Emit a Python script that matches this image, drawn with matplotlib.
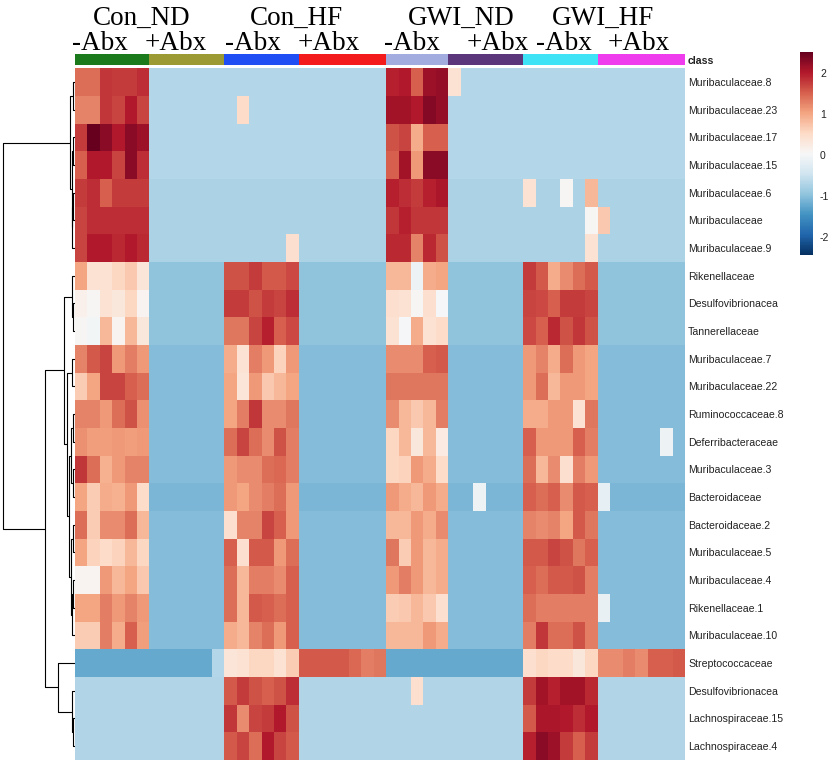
import numpy as np
import matplotlib
matplotlib.use("Agg")
import matplotlib.pyplot as plt
from matplotlib.colors import ListedColormap
from matplotlib.transforms import blended_transform_factory

plt.rcParams["font.family"] = ["Liberation Sans", "DejaVu Sans"]

taxa = ["Muribaculaceae.8", "Muribaculaceae.23", "Muribaculaceae.17", "Muribaculaceae.15",
        "Muribaculaceae.6", "Muribaculaceae", "Muribaculaceae.9", "Rikenellaceae",
        "Desulfovibrionacea", "Tannerellaceae", "Muribaculaceae.7", "Muribaculaceae.22",
        "Ruminococcaceae.8", "Deferribacteraceae", "Muribaculaceae.3", "Bacteroidaceae",
        "Bacteroidaceae.2", "Muribaculaceae.5", "Muribaculaceae.4", "Rikenellaceae.1",
        "Muribaculaceae.10", "Streptococcaceae", "Desulfovibrionacea", "Lachnospiraceae.15",
        "Lachnospiraceae.4"]

group_names = ["Con_ND", "Con_HF", "GWI_ND", "GWI_HF"]
abx_labels = ["-Abx", "+Abx"] * 4
# samples per class: Con_ND-/+, Con_HF-/+, GWI_ND-/+, GWI_HF-/+
class_sizes = [6, 6, 6, 7, 5, 6, 6, 7]
class_colors = ["#1b7a1b", "#9b9a33", "#1f4ef5", "#f31b1b",
                "#a3acdf", "#5b367a", "#3ee3f5", "#ef3cec"]
# label centres, in heatmap columns
group_label_x = [5.4, 17.8, 31.0, 42.4]
abx_label_x = [2.0, 8.1, 14.3, 20.4, 27.05, 34.0, 39.3, 45.3]

# row-scaled abundances (rows = taxa, columns = samples)
z_scores = [
    [1.40, 1.40, 1.80, 1.75, 1.75, 1.85, -.70, -.70, -.70, -.70, -.70, -.70,
     -.70, -.70, -.70, -.70, -.70, -.70, -.70, -.70, -.70, -.70, -.70, -.70, -.70,
     1.95, 2.00, 1.50, 2.15, 2.20, 0.40, -.70, -.70, -.70, -.70, -.70,
     -.70, -.70, -.70, -.70, -.70, -.70, -.70, -.70, -.70, -.70, -.70, -.70, -.70],
    [1.25, 1.25, 1.80, 1.70, 2.00, 1.70, -.70, -.70, -.70, -.70, -.70, -.70,
     -.70, 0.50, -.70, -.70, -.70, -.70, -.70, -.70, -.70, -.70, -.70, -.70, -.70,
     2.10, 2.10, 2.00, 2.30, 2.20, -.70, -.70, -.70, -.70, -.70, -.70,
     -.70, -.70, -.70, -.70, -.70, -.70, -.70, -.70, -.70, -.70, -.70, -.70, -.70],
    [1.75, 2.50, 2.25, 2.00, 2.25, 2.15, -.70, -.70, -.70, -.70, -.70, -.70,
     -.70, -.70, -.70, -.70, -.70, -.70, -.70, -.70, -.70, -.70, -.70, -.70, -.70,
     1.60, 1.70, 0.95, 1.50, 1.50, -.70, -.70, -.70, -.70, -.70, -.70,
     -.70, -.70, -.70, -.70, -.70, -.70, -.70, -.70, -.70, -.70, -.70, -.70, -.70],
    [1.50, 2.00, 2.00, 1.70, 2.25, 1.85, -.70, -.70, -.70, -.70, -.70, -.70,
     -.70, -.70, -.70, -.70, -.70, -.70, -.70, -.70, -.70, -.70, -.70, -.70, -.70,
     1.50, 2.10, 1.10, 2.25, 2.25, -.70, -.70, -.70, -.70, -.70, -.70,
     -.70, -.70, -.70, -.70, -.70, -.70, -.70, -.70, -.70, -.70, -.70, -.70, -.70],
    [1.75, 1.85, 1.50, 1.75, 1.75, 1.75, -.75, -.75, -.75, -.75, -.75, -.75,
     -.75, -.75, -.75, -.75, -.75, -.75, -.75, -.75, -.75, -.75, -.75, -.75, -.75,
     1.95, 1.85, 1.75, 1.95, 2.05, -.75, -.75, -.75, -.75, -.75, -.75,
     0.40, -.75, -.75, 0.05, -.75, 0.85, -.75, -.75, -.75, -.75, -.75, -.75, -.75],
    [1.70, 1.85, 1.85, 1.85, 1.85, 1.85, -.75, -.75, -.75, -.75, -.75, -.75,
     -.75, -.75, -.75, -.75, -.75, -.75, -.75, -.75, -.75, -.75, -.75, -.75, -.75,
     1.80, 1.95, 1.80, 1.80, 1.80, -.75, -.75, -.75, -.75, -.75, -.75,
     -.75, -.75, -.75, -.75, -.75, 0.05, 0.70, -.75, -.75, -.75, -.75, -.75, -.75],
    [1.70, 2.00, 2.00, 1.90, 2.00, 1.90, -.75, -.75, -.75, -.75, -.75, -.75,
     -.75, -.75, -.75, -.75, -.75, 0.45, -.75, -.75, -.75, -.75, -.75, -.75, -.75,
     1.90, 1.90, 1.25, 1.90, 1.60, -.75, -.75, -.75, -.75, -.75, -.75,
     -.75, -.75, -.75, -.75, -.75, 0.40, -.75, -.75, -.75, -.75, -.75, -.75, -.75],
    [1.00, 0.40, 0.40, 0.55, 0.70, 0.35, -.97, -.97, -.97, -.97, -.97, -.97,
     1.60, 1.60, 1.75, 1.55, 1.55, 1.65, -.97, -.97, -.97, -.97, -.97, -.97, -.97,
     0.85, 0.85, -.10, 0.95, 1.00, -.97, -.97, -.97, -.97, -.97, -.97,
     1.75, 1.55, 0.95, 1.20, 1.40, 1.55, -.97, -.97, -.97, -.97, -.97, -.97, -.97],
    [0.15, 0.05, 0.40, 0.30, 0.55, 0.10, -.97, -.97, -.97, -.97, -.97, -.97,
     1.75, 1.75, 1.60, 1.75, 1.70, 1.85, -.97, -.97, -.97, -.97, -.97, -.97, -.97,
     0.45, 0.40, 0.05, 0.45, 0.00, -.97, -.97, -.97, -.97, -.97, -.97,
     1.70, 1.65, 1.50, 1.75, 1.75, 1.70, -.97, -.97, -.97, -.97, -.97, -.97, -.97],
    [0.05, -.05, 0.85, 0.10, 0.85, 0.30, -.97, -.97, -.97, -.97, -.97, -.97,
     1.35, 1.35, 1.70, 1.95, 1.50, 1.65, -.97, -.97, -.97, -.97, -.97, -.97, -.97,
     0.40, 0.00, 0.95, 0.40, 0.50, -.97, -.97, -.97, -.97, -.97, -.97,
     1.65, 1.50, 1.90, 1.60, 1.80, 1.60, -.97, -.97, -.97, -.97, -.97, -.97, -.97],
    [1.25, 1.55, 1.70, 1.10, 1.30, 1.10, -1.05, -1.05, -1.05, -1.05, -1.05, -1.05,
     0.95, 0.40, 1.30, 1.10, 0.60, 1.10, -1.05, -1.05, -1.05, -1.05, -1.05, -1.05, -1.05,
     1.20, 1.20, 1.20, 1.50, 1.55, -1.05, -1.05, -1.05, -1.05, -1.05, -1.05,
     1.10, 1.25, 0.95, 1.40, 1.10, 1.00, -1.05, -1.05, -1.05, -1.05, -1.05, -1.05, -1.05],
    [0.65, 1.00, 1.70, 1.70, 1.50, 1.40, -1.05, -1.05, -1.05, -1.05, -1.05, -1.05,
     1.00, 0.35, 1.10, 0.70, 0.85, 1.00, -1.05, -1.05, -1.05, -1.05, -1.05, -1.05, -1.05,
     1.35, 1.35, 1.35, 1.35, 1.35, -1.05, -1.05, -1.05, -1.05, -1.05, -1.05,
     1.10, 1.40, 0.85, 1.10, 1.10, 1.00, -1.05, -1.05, -1.05, -1.05, -1.05, -1.05, -1.05],
    [1.25, 1.25, 1.10, 1.40, 1.60, 1.15, -1.05, -1.05, -1.05, -1.05, -1.05, -1.05,
     1.00, 1.30, 1.80, 1.20, 1.20, 1.35, -1.05, -1.05, -1.05, -1.05, -1.05, -1.05, -1.05,
     1.20, 0.85, 0.70, 0.85, 1.30, -1.05, -1.05, -1.05, -1.05, -1.05, -1.05,
     0.95, 0.95, 1.10, 1.10, 0.40, 1.35, -1.05, -1.05, -1.05, -1.05, -1.05, -1.05, -1.05],
    [1.15, 1.05, 1.05, 1.10, 1.05, 1.10, -1.05, -1.05, -1.05, -1.05, -1.05, -1.05,
     1.40, 1.70, 1.40, 1.20, 1.60, 1.30, -1.05, -1.05, -1.05, -1.05, -1.05, -1.05, -1.05,
     0.55, 0.85, 0.30, 0.85, 0.25, -1.05, -1.05, -1.05, -1.05, -1.05, -1.05,
     1.50, 1.10, 1.10, 1.10, 1.50, 1.30, -1.05, -1.05, -1.05, -1.05, -1.05, -.10, -1.05],
    [1.80, 1.40, 0.90, 1.10, 1.25, 1.25, -1.05, -1.05, -1.05, -1.05, -1.05, -1.05,
     1.10, 1.20, 1.20, 1.40, 1.45, 1.30, -1.05, -1.05, -1.05, -1.05, -1.05, -1.05, -1.05,
     0.55, 0.60, 1.10, 0.95, 0.50, -1.05, -1.05, -1.05, -1.05, -1.05, -1.05,
     1.40, 0.85, 1.20, 0.45, 1.30, 1.10, -1.05, -1.05, -1.05, -1.05, -1.05, -1.05, -1.05],
    [1.00, 0.65, 0.95, 0.90, 1.10, 0.50, -1.10, -1.10, -1.10, -1.10, -1.10, -1.10,
     1.10, 1.00, 1.20, 1.30, 1.40, 1.10, -1.10, -1.10, -1.10, -1.10, -1.10, -1.10, -1.10,
     1.10, 0.95, 0.85, 1.10, 0.95, -1.10, -1.10, -.10, -1.10, -1.10, -1.10,
     1.50, 1.40, 1.50, 1.20, 1.55, 1.50, -.20, -1.10, -1.10, -1.10, -1.10, -1.10, -1.10],
    [1.40, 0.65, 1.20, 1.20, 1.40, 0.85, -1.05, -1.05, -1.05, -1.05, -1.05, -1.05,
     0.45, 1.25, 1.25, 1.70, 1.50, 1.10, -1.05, -1.05, -1.05, -1.05, -1.05, -1.05, -1.05,
     0.85, 0.85, 1.10, 0.95, 1.20, -1.05, -1.05, -1.05, -1.05, -1.05, -1.05,
     1.25, 1.20, 1.25, 1.00, 1.55, 1.35, -1.05, -1.05, -1.05, -1.05, -1.05, -1.05, -1.05],
    [1.00, 0.60, 0.50, 0.60, 0.85, 0.55, -1.05, -1.05, -1.05, -1.05, -1.05, -1.05,
     1.50, 0.45, 1.55, 1.55, 1.10, 1.40, -1.05, -1.05, -1.05, -1.05, -1.05, -1.05, -1.05,
     1.35, 0.65, 1.10, 0.85, 0.95, -1.05, -1.05, -1.05, -1.05, -1.05, -1.05,
     1.55, 1.55, 1.70, 1.60, 1.35, 1.50, -1.05, -1.05, -1.05, -1.05, -1.05, -1.05, -1.05],
    [0.10, 0.10, 1.10, 0.85, 1.00, 0.70, -1.05, -1.05, -1.05, -1.05, -1.05, -1.05,
     1.40, 0.85, 1.30, 1.30, 1.20, 1.50, -1.05, -1.05, -1.05, -1.05, -1.05, -1.05, -1.05,
     1.10, 1.30, 1.10, 0.85, 0.95, -1.05, -1.05, -1.05, -1.05, -1.05, -1.05,
     1.50, 1.40, 1.55, 1.55, 1.60, 1.30, -1.05, -1.05, -1.05, -1.05, -1.05, -1.05, -1.05],
    [1.00, 1.00, 1.30, 1.10, 1.25, 1.10, -1.05, -1.05, -1.05, -1.05, -1.05, -1.05,
     1.40, 0.85, 1.55, 1.50, 1.40, 1.50, -1.05, -1.05, -1.05, -1.05, -1.05, -1.05, -1.05,
     0.65, 0.70, 0.85, 0.70, 0.45, -1.05, -1.05, -1.05, -1.05, -1.05, -1.05,
     1.40, 1.30, 1.30, 1.30, 1.30, 1.30, -.15, -1.05, -1.05, -1.05, -1.05, -1.05, -1.05],
    [0.65, 0.65, 1.30, 0.95, 1.50, 1.05, -1.05, -1.05, -1.05, -1.05, -1.05, -1.05,
     0.95, 0.85, 1.25, 1.40, 1.10, 1.50, -1.05, -1.05, -1.05, -1.05, -1.05, -1.05, -1.05,
     0.85, 0.85, 0.85, 1.10, 0.95, -1.05, -1.05, -1.05, -1.05, -1.05, -1.05,
     1.30, 1.80, 1.40, 1.40, 1.60, 1.30, -1.05, -1.05, -1.05, -1.05, -1.05, -1.05, -1.05],
    [-1.25, -1.25, -1.25, -1.25, -1.25, -1.25, -1.25, -1.25, -1.25, -1.25, -1.25, -.70,
     0.35, 0.40, 0.55, 0.55, 0.40, 0.65, 1.55, 1.55, 1.55, 1.55, 1.45, 1.30, 1.35,
     -1.25, -1.25, -1.25, -1.25, -1.25, -1.25, -1.25, -1.25, -1.25, -1.25, -1.25,
     0.45, 0.55, 0.50, 0.50, 0.30, 0.55, 1.20, 1.20, 1.30, 1.20, 1.50, 1.50, 1.55],
    [-.72, -.72, -.72, -.72, -.72, -.72, -.72, -.72, -.72, -.72, -.72, -.72,
     1.55, 1.75, 1.60, 1.50, 1.60, 1.85, -.72, -.72, -.72, -.72, -.72, -.72, -.72,
     -.72, -.72, 0.45, -.72, -.72, -.72, -.72, -.72, -.72, -.72, -.72,
     1.75, 2.10, 1.95, 2.10, 2.10, 1.90, -.72, -.72, -.72, -.72, -.72, -.72, -.72],
    [-.72, -.72, -.72, -.72, -.72, -.72, -.72, -.72, -.72, -.72, -.72, -.72,
     1.80, 1.20, 1.70, 1.75, 2.00, 1.60, -.72, -.72, -.72, -.72, -.72, -.72, -.72,
     -.72, -.72, -.72, -.72, -.72, -.72, -.72, -.72, -.72, -.72, -.72,
     1.55, 2.05, 2.05, 2.00, 1.85, 2.00, -.72, -.72, -.72, -.72, -.72, -.72, -.72],
    [-.72, -.72, -.72, -.72, -.72, -.72, -.72, -.72, -.72, -.72, -.72, -.72,
     1.55, 1.70, 1.40, 2.00, 1.70, 1.55, -.72, -.72, -.72, -.72, -.72, -.72, -.72,
     -.72, -.72, -.72, -.72, -.72, -.72, -.72, -.72, -.72, -.72, -.72,
     1.95, 2.25, 2.15, 1.75, 1.50, 1.75, -.72, -.72, -.72, -.72, -.72, -.72, -.72],
]

# row dendrogram: (left, right, merge height in px); new nodes numbered from 25
row_tree = [
    (0, 1, 2.0), (4, 5, 1.5), (26, 6, 2.5), (2, 3, 1.5), (28, 27, 3.0),
    (25, 29, 4.7),
    (8, 9, 1.5), (7, 31, 3.0),
    (10, 11, 3.0), (12, 13, 1.5), (14, 15, 1.5), (34, 35, 3.5),
    (16, 17, 2.0), (18, 19, 1.5), (38, 20, 2.5), (37, 39, 4.0),
    (36, 40, 6.0), (33, 41, 8.0), (32, 42, 10.7),
    (23, 24, 1.5), (22, 44, 3.0), (21, 45, 16.5),
    (43, 46, 29.7), (30, 47, 72.0),
]

W, H = 831, 764
fig = plt.figure(figsize=(W / 100, H / 100), dpi=100)


def px_axes(x0, y0, x1, y1):
    return fig.add_axes([x0 / W, 1 - y1 / H, (x1 - x0) / W, (y1 - y0) / H])


data = np.array(z_scores)
nrow, ncol = data.shape

# heatmap
ax = px_axes(74.7, 68.3, 685, 760)
mesh = ax.pcolormesh(data, cmap="RdBu_r", vmin=-2.45, vmax=2.5)
ax.set_xlim(0, ncol)
ax.set_ylim(nrow, 0)
ax.set_xticks([])
ax.yaxis.tick_right()
ax.set_yticks(np.arange(nrow) + 0.5)
ax.set_yticklabels(taxa, fontsize=7.6, color="#222222")
ax.tick_params(axis="y", length=0, pad=2.2)
for s in ax.spines.values():
    s.set_visible(False)

# class annotation bar
ax_c = px_axes(74.7, 54.3, 685, 65)
class_idx = np.repeat(np.arange(len(class_sizes)), class_sizes)[None, :]
ax_c.pcolormesh(class_idx, cmap=ListedColormap(class_colors),
                vmin=-0.5, vmax=len(class_sizes) - 0.5)
ax_c.set_xlim(0, ncol)
ax_c.set_xticks([])
ax_c.yaxis.tick_right()
ax_c.set_yticks([0.5])
ax_c.set_yticklabels(["class"], fontsize=7.6, fontweight="bold", color="#222222")
ax_c.tick_params(axis="y", length=0, pad=2.2)
for s in ax_c.spines.values():
    s.set_visible(False)

# group labels above
trans = blended_transform_factory(ax_c.transData, fig.transFigure)
for name, x in zip(group_names, group_label_x):
    ax_c.text(x, 1 - 25 / H, name, transform=trans, ha="center", va="baseline",
              fontsize=19.5, family="Liberation Serif")
for name, x in zip(abx_labels, abx_label_x):
    ax_c.text(x, 1 - 50 / H, name, transform=trans, ha="center", va="baseline",
              fontsize=19.5, family="Liberation Serif")

# row dendrogram
ax_d = px_axes(0, 68.3, 74.7, 760)
ypos = {i: i + 0.5 for i in range(nrow)}
hgt = {i: 0.0 for i in range(nrow)}
for k, (a, b, h) in enumerate(row_tree):
    ax_d.plot([hgt[a], h, h, hgt[b]], [ypos[a], ypos[a], ypos[b], ypos[b]],
              color="black", lw=0.8, solid_capstyle="butt")
    ypos[nrow + k] = (ypos[a] + ypos[b]) / 2
    hgt[nrow + k] = h
ax_d.set_xlim(74.7, 0)
ax_d.set_ylim(nrow, 0)
ax_d.axis("off")

# colour key
cax = px_axes(800, 52, 813, 255)
cb = fig.colorbar(mesh, cax=cax)
cb.outline.set_visible(False)
cb.set_ticks([-2, -1, 0, 1, 2])
cb.set_ticklabels(["-2", "-1", "0", "1", "2"])
cax.tick_params(length=0, pad=5, labelsize=7.5, labelcolor="#222222")

fig.savefig("out.png", dpi=100)
